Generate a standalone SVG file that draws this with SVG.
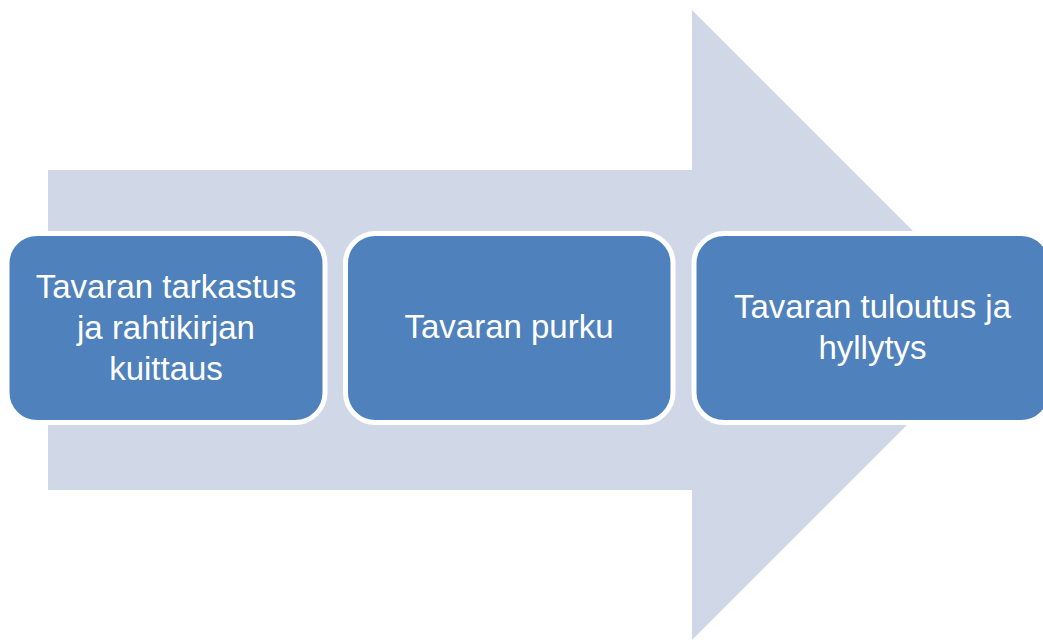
<svg xmlns="http://www.w3.org/2000/svg" width="1043" height="643" viewBox="0 0 1043 643">
<style>
.box{fill:#4F81BD;stroke:#FFFFFF;stroke-width:5}
.lbl{font-family:"Liberation Sans",Arial,sans-serif;font-size:33px;fill:#FFFFFF;text-anchor:middle}
</style>
<rect width="1043" height="643" fill="#FFFFFF"/>
<g id="connectors">
<polygon points="48,170 692,170 692,10 1007,325 692,640 692,490 48,490" fill="#D0D8E8"/>
</g>
<g id="node1">
<rect class="box" x="7" y="233.5" width="318" height="189" rx="30"/>
<text class="lbl" x="166" y="298">Tavaran tarkastus</text>
<text class="lbl" x="166" y="339">ja rahtikirjan</text>
<text class="lbl" x="166" y="380">kuittaus</text>
</g>
<g id="node2">
<rect class="box" x="345.5" y="233.5" width="327.5" height="189" rx="30"/>
<text class="lbl" x="509" y="338">Tavaran purku</text>
</g>
<g id="node3">
<rect class="box" x="694" y="233.5" width="357" height="189" rx="30"/>
<text class="lbl" x="872.5" y="318">Tavaran tuloutus ja</text>
<text class="lbl" x="872.5" y="359">hyllytys</text>
</g>
</svg>
